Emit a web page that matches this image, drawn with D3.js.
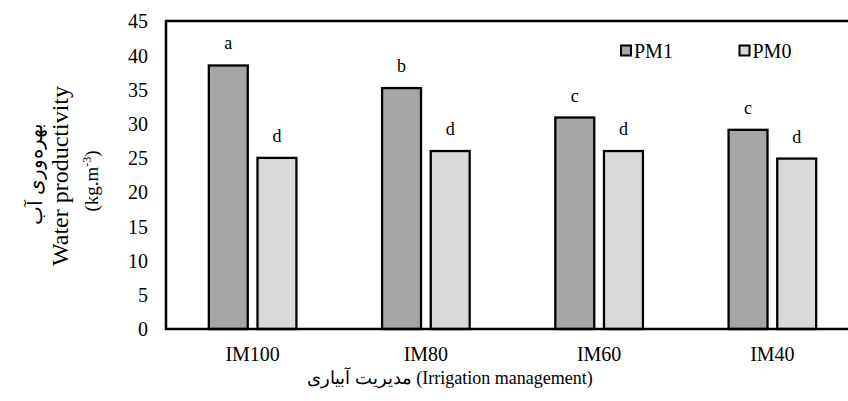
<!DOCTYPE html>
<html>
<head>
<meta charset="utf-8">
<script src="https://cdn.jsdelivr.net/npm/d3@7"></script>
<style>
  html, body { margin: 0; padding: 0; background: #fff; }
  svg { display: block; }
  text { font-family: "Liberation Serif", "Times New Roman", serif; fill: #000; }
</style>
</head>
<body>
<div id="chart"></div>
<script>
const categories = ["IM100", "IM80", "IM60", "IM40"];
const seriesNames = ["PM1", "PM0"];
const pm1Values = [38.5, 35.2, 30.9, 29.1];
const pm0Values = [25.0, 26.0, 26.0, 24.9];
const pm1Letters = ["a", "b", "c", "c"];
const pm0Letters = ["d", "d", "d", "d"];
const yTicks = [0, 5, 10, 15, 20, 25, 30, 35, 40, 45];
const seriesColors = ["#a6a6a6", "#d9d9d9"];

const W = 848, H = 401;
const plot = { left: 166, top: 21, right: 859, bottom: 329 };

const svg = d3.select("#chart").append("svg").attr("width", W).attr("height", H);

const x0 = d3.scaleBand().domain(categories).range([plot.left, plot.right]).paddingInner(0).paddingOuter(0);
const x1 = d3.scaleBand().domain(seriesNames).range([0, x0.bandwidth()]).paddingInner(0.2).paddingOuter(0.88);
const y = d3.scaleLinear().domain([0, 45]).range([plot.bottom, plot.top]);
const color = d3.scaleOrdinal().domain(seriesNames).range(seriesColors);

const rows = categories.map((c, i) => ({
  cat: c,
  vals: [
    { s: "PM1", v: pm1Values[i], l: pm1Letters[i] },
    { s: "PM0", v: pm0Values[i], l: pm0Letters[i] }
  ]
}));

// y axis
const yAxis = svg.append("g").attr("transform", `translate(${plot.left},0)`)
  .call(d3.axisLeft(y).tickValues(yTicks).tickSize(0).tickPadding(18));
yAxis.select(".domain").remove();
yAxis.selectAll("text").style("font-family", '"Liberation Serif", serif').style("font-size", "20px").attr("dy", "0.34em");

// x axis
const xAxis = svg.append("g").attr("transform", `translate(0,${plot.bottom})`)
  .call(d3.axisBottom(x0).tickSize(0).tickPadding(32));
xAxis.select(".domain").remove();
xAxis.selectAll("text").style("font-family", '"Liberation Serif", serif').style("font-size", "20px").attr("dy", "0");

// bars
const groups = svg.append("g").selectAll("g").data(rows).join("g")
  .attr("transform", d => `translate(${x0(d.cat)},0)`);
groups.selectAll("rect").data(d => d.vals).join("rect")
  .attr("x", d => x1(d.s))
  .attr("y", d => y(d.v))
  .attr("width", x1.bandwidth())
  .attr("height", d => y(0) - y(d.v))
  .attr("fill", d => color(d.s))
  .attr("stroke", "#000")
  .attr("stroke-width", 2.3);
groups.selectAll("text.lbl").data(d => d.vals).join("text")
  .attr("class", "lbl")
  .attr("x", d => x1(d.s) + x1.bandwidth() / 2)
  .attr("y", d => y(d.v) - 16)
  .attr("text-anchor", "middle")
  .style("font-size", "18px")
  .text(d => d.l);

// frame
svg.append("rect")
  .attr("x", plot.left).attr("y", plot.top)
  .attr("width", plot.right - plot.left).attr("height", plot.bottom - plot.top)
  .attr("fill", "none").attr("stroke", "#000").attr("stroke-width", 2.5);

// legend
const legendX = [621, 739.5];
const legend = svg.append("g").selectAll("g").data(seriesNames).join("g")
  .attr("transform", (d, i) => `translate(${legendX[i]},45.5)`);
legend.append("rect").attr("width", 10).attr("height", 10)
  .attr("fill", d => color(d)).attr("stroke", "#000").attr("stroke-width", 2);
legend.append("text").attr("x", 13).attr("y", 12.5)
  .style("font-size", "20px").text(d => d);

// y title
const yt = svg.append("g");
yt.append("text").attr("transform", "translate(42,174) rotate(-90)")
  .attr("text-anchor", "middle").style("font-size", "20px")
  .text("بهره‌وری آب");
yt.append("text").attr("transform", "translate(68,176) rotate(-90)")
  .attr("text-anchor", "middle").style("font-size", "24px")
  .text("Water productivity");
const unit = yt.append("text").attr("transform", "translate(98,181) rotate(-90)")
  .attr("text-anchor", "middle").style("font-size", "19px");
unit.append("tspan").text("(kg.m");
unit.append("tspan").attr("baseline-shift", "super").style("font-size", "12px").text("-3");
unit.append("tspan").text(")");

// x title
svg.append("text").attr("x", 450).attr("y", 384)
  .attr("text-anchor", "middle").attr("direction", "ltr")
  .style("font-size", "18px")
  .text("مدیریت آبیاری (Irrigation management)");
</script>
</body>
</html>
